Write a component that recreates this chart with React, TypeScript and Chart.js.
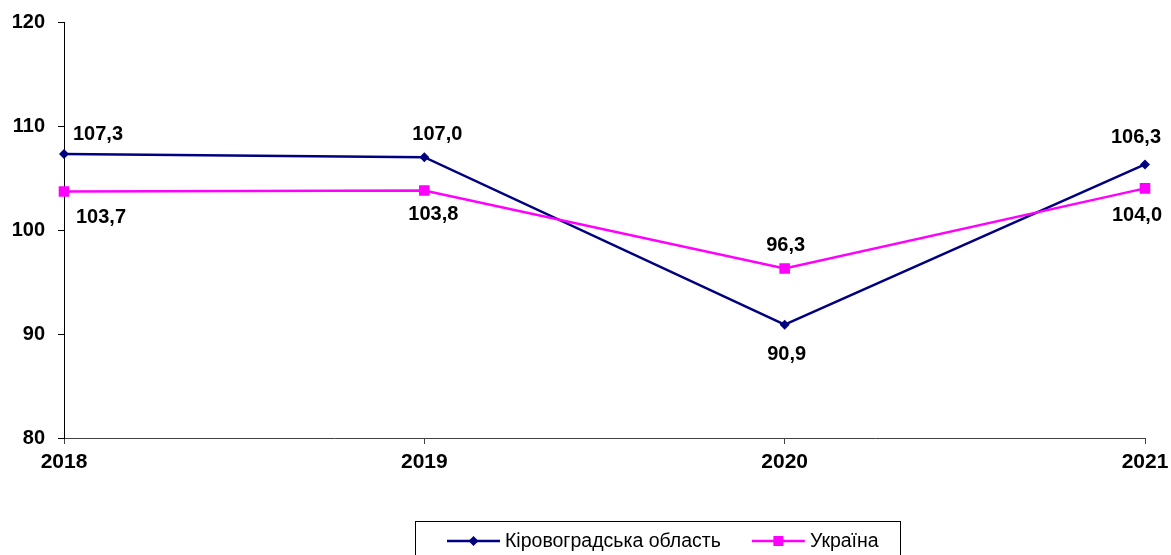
import React, { useEffect, useRef } from "react";
import { Chart, registerables } from "chart.js";

Chart.register(...registerables);

const years = ["2018", "2019", "2020", "2021"];
const kirovohrad = [107.3, 107.0, 90.9, 106.3];
const ukraine = [103.7, 103.8, 96.3, 104.0];
const seriesNames = ["Кіровоградська область", "Україна"];
const yTicks = [80, 90, 100, 110, 120];

const NAVY = "#000080";
const MAGENTA = "#FF00FF";
const FONT = "'Liberation Sans', Arial, sans-serif";

// label offsets (dx, dy of text baseline relative to the point)
const labelOffsets = [
  [[34, -14], [13, -17], [2, 35], [-9, -21]],
  [[37, 31], [9, 30], [1, -17], [-8, 33]],
];

const fmt = (v: number) => v.toFixed(1).replace(".", ",");

const dataLabels = {
  id: "dataLabels",
  afterDatasetsDraw(chart: any) {
    const ctx = chart.ctx;
    ctx.save();
    ctx.font = `bold 20px ${FONT}`;
    ctx.fillStyle = "#000";
    ctx.textAlign = "center";
    ctx.textBaseline = "alphabetic";
    chart.data.datasets.forEach((ds: any, i: number) => {
      const meta = chart.getDatasetMeta(i);
      meta.data.forEach((pt: any, j: number) => {
        const [dx, dy] = labelOffsets[i][j];
        ctx.fillText(fmt(ds.data[j]), pt.x + dx, pt.y + dy);
      });
    });
    ctx.restore();
  },
};

const boxLegend = {
  id: "boxLegend",
  afterDraw(chart: any) {
    const ctx = chart.ctx;
    ctx.save();
    ctx.strokeStyle = "#000";
    ctx.lineWidth = 1;
    ctx.strokeRect(415.5, 521.5, 485, 60);
    ctx.font = `19.5px ${FONT}`;
    ctx.textBaseline = "middle";
    ctx.textAlign = "left";
    const y = 541;
    let x = 447;
    chart.data.datasets.forEach((ds: any, i: number) => {
      ctx.strokeStyle = ds.borderColor;
      ctx.lineWidth = 2.5;
      ctx.beginPath();
      ctx.moveTo(x, y);
      ctx.lineTo(x + 53, y);
      ctx.stroke();
      ctx.fillStyle = ds.borderColor;
      const cx = x + 26.5;
      ctx.beginPath();
      if (i === 0) {
        ctx.moveTo(cx, y - 5);
        ctx.lineTo(cx + 5, y);
        ctx.lineTo(cx, y + 5);
        ctx.lineTo(cx - 5, y);
        ctx.closePath();
      } else {
        ctx.rect(cx - 5, y - 5, 10, 10);
      }
      ctx.fill();
      ctx.fillStyle = "#000";
      ctx.fillText(ds.label, x + 58, y + 1);
      x = x + 58 + ctx.measureText(ds.label).width + 31;
    });
    ctx.restore();
  },
};

export default function App() {
  const ref = useRef<HTMLCanvasElement | null>(null);
  useEffect(() => {
    if (!ref.current) return;
    const chart = new Chart(ref.current, {
      type: "line",
      data: {
        labels: years,
        datasets: [
          {
            label: seriesNames[0],
            data: kirovohrad,
            borderColor: NAVY,
            backgroundColor: NAVY,
            borderWidth: 2.5,
            pointStyle: "rectRot",
            pointRadius: 5,
            pointBorderWidth: 0,
            tension: 0,
            order: 1,
          },
          {
            label: seriesNames[1],
            data: ukraine,
            borderColor: MAGENTA,
            backgroundColor: MAGENTA,
            borderWidth: 2.5,
            pointStyle: "rect",
            pointRadius: 7.5,
            pointBorderWidth: 0,
            tension: 0,
            order: 0,
          },
        ],
      },
      options: {
        responsive: false,
        animation: false,
        layout: { padding: { top: 22, right: 26, left: 0, bottom: 0 } },
        plugins: { legend: { display: false }, tooltip: { enabled: false } },
        scales: {
          x: {
            offset: false,
            grid: { drawOnChartArea: false, drawTicks: true, tickLength: 6, color: "#404040" },
            border: { display: true, color: "#404040", width: 1 },
            ticks: { color: "#000", font: { family: FONT, size: 21, weight: "bold" }, padding: 6, maxRotation: 0 },
            afterFit: (s: any) => { s.height = 117; s.paddingLeft = 0; s.paddingRight = 0; },
          },
          y: {
            min: 80,
            max: 120,
            afterBuildTicks: (s: any) => { s.ticks = yTicks.map((v) => ({ value: v })); },
            grid: { drawOnChartArea: false, drawTicks: true, tickLength: 6, color: "#000" },
            border: { display: true, color: "#000", width: 1 },
            ticks: { color: "#000", font: { family: FONT, size: 20, weight: "bold" }, padding: 13 },
            afterFit: (s: any) => { s.width = 64; s.paddingTop = 0; s.paddingBottom = 0; },
          },
        },
      },
      plugins: [dataLabels, boxLegend],
    });
    return () => chart.destroy();
  }, []);
  return (
    <div style={{ position: "absolute", left: 0, top: 0, width: 1171, height: 555, background: "#fff" }}>
      <canvas ref={ref} width={1171} height={555} style={{ width: 1171, height: 555 }} />
    </div>
  );
}
